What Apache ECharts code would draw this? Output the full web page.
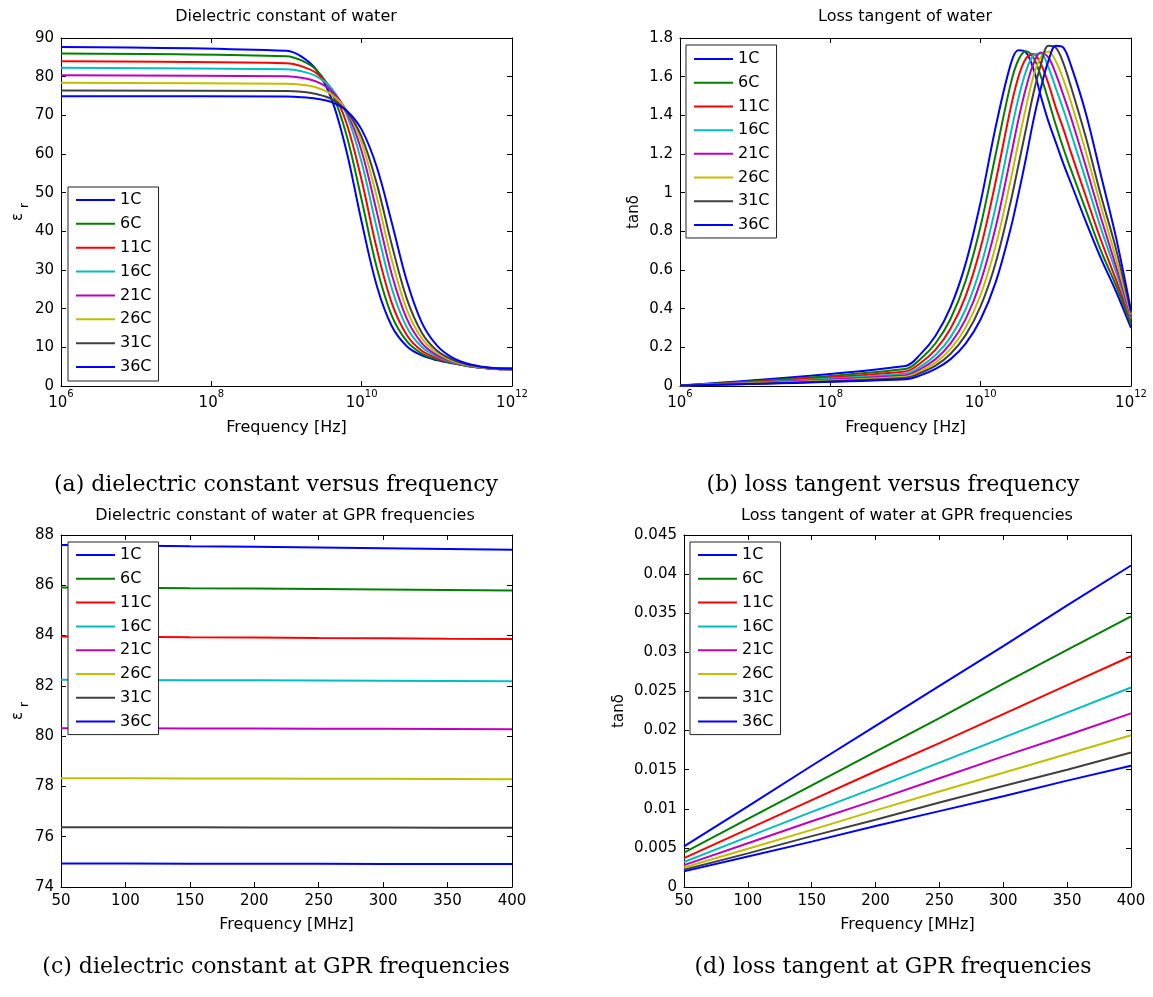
<!DOCTYPE html>
<html><head><meta charset="utf-8">
<script src="https://cdn.jsdelivr.net/npm/echarts@6/dist/echarts.min.js"></script>
<style>html,body{margin:0;padding:0;background:#fff}#c{width:1153px;height:997px}</style>
</head><body><div id="c"></div>
<script>
// ---------- data ----------
const TEMPS = ['1C', '6C', '11C', '16C', '21C', '26C', '31C', '36C'];
const LINE_COLORS = ['#0000ff', '#008000', '#ff0000', '#00bfbf', '#bf00bf', '#bfbf00', '#404040', '#0000ff'];

// (a) dielectric constant vs frequency; x = log10(frequency in Hz)
const freqExpA = [6, 9, 9.2, 9.4, 9.6, 9.8, 10, 10.2, 10.4, 10.6, 10.8, 11, 11.2, 11.4, 11.6, 11.8, 12];
const epsWide = [
  [87.7, 86.7, 85.2, 81.7, 74.2, 60.6, 42.4, 26.0, 15.5, 10.3, 7.9, 6.7, 5.9, 5.2, 4.7, 4.4, 4.3],
  [86.0, 85.3, 84.2, 81.7, 76.0, 64.8, 48.1, 30.7, 18.2, 11.6, 8.4, 6.9, 6.0, 5.2, 4.7, 4.4, 4.3],
  [84.0, 83.5, 82.7, 80.9, 76.7, 67.9, 53.2, 35.6, 21.5, 13.2, 9.1, 7.2, 6.1, 5.3, 4.7, 4.4, 4.3],
  [82.3, 81.9, 81.4, 80.1, 77.0, 70.2, 57.8, 40.9, 25.3, 15.2, 10.1, 7.6, 6.2, 5.3, 4.8, 4.5, 4.3],
  [80.35, 80.1, 79.7, 78.7, 76.3, 71.0, 60.7, 45.1, 28.9, 17.4, 11.1, 8.0, 6.4, 5.4, 4.8, 4.5, 4.3],
  [78.4, 78.2, 77.9, 77.2, 75.4, 71.3, 62.9, 49.0, 32.7, 19.8, 12.3, 8.6, 6.6, 5.5, 4.8, 4.5, 4.3],
  [76.45, 76.3, 76.1, 75.5, 74.2, 71.1, 64.4, 52.4, 36.6, 22.6, 13.8, 9.2, 6.9, 5.6, 4.9, 4.5, 4.3],
  [74.95, 74.85, 74.7, 74.3, 73.4, 71.2, 66.3, 56.7, 42.3, 27.2, 16.4, 10.5, 7.4, 5.8, 5.0, 4.6, 4.6]
];

// (b) loss tangent vs frequency; x = log10(frequency in Hz)
const freqExpB = [6, 9, 9.2, 9.4, 9.6, 9.8, 10, 10.2, 10.4, 10.5, 10.6, 10.7, 10.8, 10.9, 11, 11.1, 11.2, 11.4, 11.6, 11.8, 12];
const tanWide = [
  [0.002, 0.104, 0.165, 0.260, 0.408, 0.633, 0.953, 1.341, 1.665, 1.736, 1.727, 1.643, 1.50, 1.37, 1.26, 1.15, 1.05, 0.85, 0.66, 0.49, 0.30],
  [0.002, 0.088, 0.140, 0.221, 0.348, 0.543, 0.829, 1.199, 1.564, 1.685, 1.732, 1.700, 1.603, 1.48, 1.35, 1.23, 1.12, 0.91, 0.70, 0.52, 0.32],
  [0.002, 0.075, 0.119, 0.188, 0.297, 0.465, 0.716, 1.058, 1.440, 1.596, 1.693, 1.717, 1.667, 1.565, 1.44, 1.33, 1.21, 0.98, 0.755, 0.55, 0.34],
  [0.002, 0.064, 0.101, 0.160, 0.253, 0.397, 0.616, 0.927, 1.306, 1.485, 1.625, 1.71, 1.72, 1.65, 1.54, 1.43, 1.31, 1.065, 0.815, 0.59, 0.35],
  [0.002, 0.056, 0.088, 0.139, 0.220, 0.346, 0.540, 0.822, 1.185, 1.374, 1.537, 1.665, 1.725, 1.70, 1.615, 1.505, 1.39, 1.135, 0.87, 0.62, 0.36],
  [0.002, 0.048, 0.077, 0.121, 0.192, 0.302, 0.472, 0.725, 1.067, 1.256, 1.436, 1.60, 1.70, 1.73, 1.68, 1.585, 1.47, 1.21, 0.93, 0.66, 0.37],
  [0.002, 0.042, 0.067, 0.105, 0.167, 0.263, 0.413, 0.638, 0.954, 1.138, 1.324, 1.51, 1.66, 1.76, 1.75, 1.67, 1.55, 1.285, 0.985, 0.71, 0.38],
  [0.002, 0.035, 0.055, 0.088, 0.139, 0.219, 0.345, 0.537, 0.816, 0.988, 1.173, 1.37, 1.54, 1.68, 1.76, 1.75, 1.66, 1.41, 1.09, 0.77, 0.39]
];

// (c), (d) GPR frequencies in MHz
const freqGPR = [50, 100, 150, 200, 250, 300, 350, 400];
const epsGPR = [
  [87.60, 87.58, 87.55, 87.53, 87.50, 87.47, 87.44, 87.41],
  [85.91, 85.90, 85.88, 85.87, 85.85, 85.83, 85.81, 85.79],
  [83.96, 83.95, 83.93, 83.92, 83.90, 83.89, 83.87, 83.86],
  [82.24, 82.23, 82.22, 82.22, 82.21, 82.20, 82.19, 82.18],
  [80.31, 80.31, 80.30, 80.30, 80.29, 80.29, 80.28, 80.27],
  [78.33, 78.33, 78.32, 78.32, 78.31, 78.31, 78.30, 78.29],
  [76.38, 76.38, 76.38, 76.37, 76.37, 76.37, 76.36, 76.36],
  [74.93, 74.93, 74.92, 74.92, 74.92, 74.91, 74.91, 74.91]
];
const tanGPR = [
  [0.0052, 0.0103, 0.0155, 0.0206, 0.0257, 0.0308, 0.0360, 0.0411],
  [0.0044, 0.0087, 0.0130, 0.0173, 0.0216, 0.0260, 0.0303, 0.0346],
  [0.0037, 0.0074, 0.0111, 0.0148, 0.0184, 0.0221, 0.0258, 0.0295],
  [0.0032, 0.0064, 0.0096, 0.0127, 0.0159, 0.0191, 0.0223, 0.0255],
  [0.0028, 0.0056, 0.0084, 0.0111, 0.0139, 0.0167, 0.0194, 0.0222],
  [0.0025, 0.0049, 0.0073, 0.0098, 0.0122, 0.0146, 0.0170, 0.0194],
  [0.0022, 0.0043, 0.0065, 0.0086, 0.0108, 0.0129, 0.0150, 0.0172],
  [0.0020, 0.0039, 0.0058, 0.0078, 0.0097, 0.0116, 0.0136, 0.0155]
];

const CHART_TITLES = ['Dielectric constant of water', 'Loss tangent of water',
  'Dielectric constant of water at GPR frequencies', 'Loss tangent of water at GPR frequencies'];
const CAPTIONS = ['(a) dielectric constant versus frequency', '(b) loss tangent versus frequency',
  '(c) dielectric constant at GPR frequencies', '(d) loss tangent at GPR frequencies'];

// ---------- layout / style ----------
const FONT = 'DejaVu Sans';
const grids = [
  {left: 61, top: 38, width: 451, height: 348},
  {left: 680, top: 38, width: 451, height: 348},
  {left: 61, top: 535, width: 451, height: 352},
  {left: 684, top: 535, width: 447, height: 352}
];
const titlePos = [[286, 17], [905, 17], [285, 516], [907, 516]];
const captionPos = [[276, 485], [893, 485], [276, 967], [893, 967]];
// [left, top, itemGap, paddingTop, paddingBottom]
const legendBox = [[68, 187, 7.86, 5, 6], [686, 45, 7.71, 6, 5], [68, 542, 7.8, 5, 5], [690, 542, 7.8, 5, 5]];

const frameLine = {show: true, onZero: false, lineStyle: {color: '#000', width: 1}};
const tick = {show: true, inside: true, length: 5, lineStyle: {color: '#000', width: 1}};

function xAxes(g, scale, label, name, nameGap) {
  const bottom = Object.assign({
    gridIndex: g, type: 'value', position: 'bottom',
    axisLine: frameLine, axisTick: tick, splitLine: {show: false},
    axisLabel: Object.assign({color: '#000', fontSize: 15, fontFamily: FONT, margin: 7}, label),
    name: name, nameLocation: 'middle', nameGap: nameGap,
    nameTextStyle: {color: '#000', fontSize: 16, fontFamily: FONT}
  }, scale);
  const top = Object.assign({
    gridIndex: g, type: 'value', position: 'top',
    axisLine: frameLine, axisTick: tick, splitLine: {show: false}, axisLabel: {show: false}
  }, scale);
  return [bottom, top];
}
function yAxes(g, scale, name, nameGap, nameStyle) {
  const left = Object.assign({
    gridIndex: g, type: 'value', position: 'left',
    axisLine: frameLine, axisTick: tick, splitLine: {show: false},
    axisLabel: {color: '#000', fontSize: 15, fontFamily: FONT, margin: 7},
    name: name, nameLocation: 'middle', nameRotate: 90, nameGap: nameGap,
    nameTextStyle: Object.assign({color: '#000', fontSize: 15, fontFamily: FONT}, nameStyle)
  }, scale);
  const right = Object.assign({
    gridIndex: g, type: 'value', position: 'right',
    axisLine: frameLine, axisTick: tick, splitLine: {show: false}, axisLabel: {show: false}
  }, scale);
  return [left, right];
}

const powLabel = {
  formatter: v => '{b|10}{s|' + v + '}',
  margin: 3,
  rich: {
    b: {fontSize: 15, fontFamily: FONT, color: '#000', verticalAlign: 'middle'},
    s: {fontSize: 10, fontFamily: FONT, color: '#000', verticalAlign: 'middle', padding: [0, 0, 18, 0]}
  }
};
const epsName = {
  rich: {
    e: {fontSize: 15, fontFamily: FONT, color: '#000', verticalAlign: 'middle'},
    r: {fontSize: 12, fontFamily: FONT, color: '#000', verticalAlign: 'middle', padding: [14, 0, 0, 5]}
  }
};

const xAxis = [].concat(
  xAxes(0, {min: 6, max: 12, interval: 2}, powLabel, 'Frequency [Hz]', 34),
  xAxes(1, {min: 6, max: 12, interval: 2}, powLabel, 'Frequency [Hz]', 34),
  xAxes(2, {min: 50, max: 400, interval: 50}, {}, 'Frequency [MHz]', 30),
  xAxes(3, {min: 50, max: 400, interval: 50}, {}, 'Frequency [MHz]', 30)
);
const yAxis = [].concat(
  yAxes(0, {min: 0, max: 90, interval: 10}, '{e|ε}{r|r}', 30, epsName),
  yAxes(1, {min: 0, max: 1.8, interval: 0.2}, 'tanδ', 38, {}),
  yAxes(2, {min: 74, max: 88, interval: 2}, '{e|ε}{r|r}', 30, epsName),
  yAxes(3, {min: 0, max: 0.045, interval: 0.005}, 'tanδ', 57, {})
);

function makeSeries(g, xs, rows, smooth) {
  return rows.map((row, i) => ({
    name: TEMPS[i], type: 'line', xAxisIndex: 2 * g, yAxisIndex: 2 * g,
    data: xs.map((x, j) => [x, row[j]]),
    smooth: smooth, symbol: 'none', showSymbol: false,
    lineStyle: {width: 2, color: LINE_COLORS[i]}, itemStyle: {color: LINE_COLORS[i]},
    emphasis: {disabled: true}, animation: false, clip: true
  }));
}
const series = [].concat(
  makeSeries(0, freqExpA, epsWide, 0.35),
  makeSeries(1, freqExpB, tanWide, 0.35),
  makeSeries(2, freqGPR, epsGPR, false),
  makeSeries(3, freqGPR, tanGPR, false)
);

const legend = legendBox.map(p => ({
  data: TEMPS, orient: 'vertical', left: p[0], top: p[1],
  itemWidth: 39, itemHeight: 16, itemGap: p[2], padding: [p[3], 7, p[4], 7],
  backgroundColor: '#fff', borderColor: '#222', borderWidth: 1, borderRadius: 0,
  selectedMode: false,
  itemStyle: {opacity: 0},
  lineStyle: {width: 2},
  textStyle: {fontSize: 16, color: '#000', fontFamily: FONT}
}));

const title = [];
CHART_TITLES.forEach((t, i) => title.push({
  text: t, left: titlePos[i][0], top: titlePos[i][1], padding: 0,
  textAlign: 'center', textVerticalAlign: 'middle',
  textStyle: {fontSize: 16, fontWeight: 'normal', color: '#000', fontFamily: FONT}
}));
CAPTIONS.forEach((t, i) => title.push({
  text: t, left: captionPos[i][0], top: captionPos[i][1], padding: 0,
  textAlign: 'center', textVerticalAlign: 'middle',
  textStyle: {fontSize: 22, fontWeight: 'normal', color: '#000', fontFamily: 'DejaVu Serif'}
}));

const chart = echarts.init(document.getElementById('c'), null, {renderer: 'canvas'});
chart.setOption({
  backgroundColor: '#fff',
  animation: false,
  textStyle: {fontFamily: FONT},
  title: title,
  legend: legend,
  grid: grids.map(g => Object.assign({containLabel: false}, g)),
  xAxis: xAxis,
  yAxis: yAxis,
  tooltip: {show: false},
  series: series
});
</script>
</body></html>
